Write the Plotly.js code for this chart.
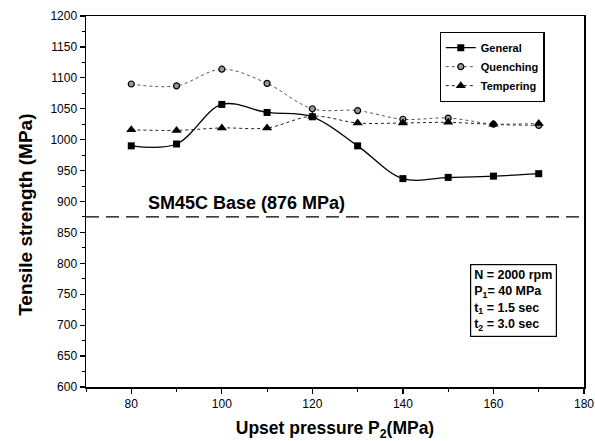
<!DOCTYPE html>
<html>
<head>
<meta charset="utf-8">
<script src="https://cdn.plot.ly/plotly-3.0.1.min.js"></script>
<style>html,body{margin:0;padding:0;background:#fff;}#chart{width:595px;height:441px;}</style>
</head>
<body>
<div id="chart"></div>
<script>
const pressure = [80, 90, 100, 110, 120, 130, 140, 150, 160, 170];
const general = [990, 993, 1057, 1044, 1037, 990, 937, 939, 941, 945];
const quenching = [1090, 1087, 1114, 1091, 1050, 1047, 1033, 1035, 1025, 1023];
const tempering = [1016, 1015, 1019, 1019, 1038, 1027, 1027, 1028, 1025, 1026];
const baseStrength = 875;
const xTicks = [80, 100, 120, 140, 160, 180];
const yTicks = [600, 650, 700, 750, 800, 850, 900, 950, 1000, 1050, 1100, 1150, 1200];

const FONT = 'Liberation Sans, Arial, sans-serif';

const traces = [
  {x: pressure, y: general, name: 'General', mode: 'lines+markers',
   line: {color: '#000', width: 1.3, shape: 'spline', smoothing: 1},
   marker: {symbol: 'square', size: 7, color: '#000'}},
  {x: pressure, y: quenching, name: 'Quenching', mode: 'lines+markers',
   line: {color: '#555', width: 1, dash: 'dot', shape: 'spline', smoothing: 1},
   marker: {symbol: 'circle', size: 6, color: '#999', line: {color: '#000', width: 1.2}}},
  {x: pressure, y: tempering, name: 'Tempering', mode: 'lines+markers',
   line: {color: '#222', width: 1, dash: 'dot', shape: 'spline', smoothing: 1},
   marker: {symbol: 'triangle-up', size: 9, color: '#000'}}
];

const layout = {
  width: 595, height: 441,
  margin: {l: 86, r: 11, t: 16, b: 54},
  paper_bgcolor: '#fff', plot_bgcolor: '#fff',
  font: {family: FONT, color: '#000', size: 11},
  showlegend: true,
  legend: {x: 0.71, y: 0.957, xanchor: 'left', yanchor: 'top',
    bordercolor: '#000', borderwidth: 1.2, bgcolor: '#fff',
    font: {family: FONT, size: 11, color: '#000', weight: 'bold'},
    tracegroupgap: 0, itemwidth: 30},
  xaxis: {range: [70, 180], tickvals: xTicks, ticktext: xTicks.map(String),
    showgrid: false, zeroline: false, showline: true, linecolor: '#000', linewidth: 1.5,
    mirror: true, ticks: 'outside', ticklen: 5, tickwidth: 1.3, tickcolor: '#000',
    minor: {dtick: 10, ticks: 'outside', ticklen: 3, tickwidth: 1, tickcolor: '#000', tick0: 70},
    tickfont: {size: 12, family: FONT},
    title: {text: '<b>Upset pressure P<sub>2</sub>(MPa)</b>', font: {size: 17.5, family: FONT}, standoff: 16}},
  yaxis: {range: [600, 1200], tickvals: yTicks, ticktext: yTicks.map(String),
    showgrid: false, zeroline: false, showline: true, linecolor: '#000', linewidth: 1.5,
    mirror: true, ticks: 'outside', ticklen: 5, tickwidth: 1.3, tickcolor: '#000',
    minor: {dtick: 25, ticks: 'outside', ticklen: 3, tickwidth: 1, tickcolor: '#000'},
    tickfont: {size: 12, family: FONT},
    title: {text: '<b>Tensile strength (MPa)</b>&nbsp;&nbsp;&nbsp;&nbsp;&nbsp;', font: {size: 19, family: FONT}, standoff: 12}},
  shapes: [
    {type: 'line', xref: 'paper', x0: 0, x1: 1, yref: 'y', y0: baseStrength, y1: baseStrength,
     line: {color: '#000', width: 1.3, dash: '13px,7px'}}
  ],
  annotations: [
    {xref: 'x', yref: 'y', x: 83.3, y: 898, xanchor: 'left', yanchor: 'middle', showarrow: false,
     text: '<b>SM45C Base (876 MPa)</b>', font: {size: 18, family: FONT, color: '#000'}},
    {xref: 'paper', yref: 'paper', x: 0.771, y: 0.332, xanchor: 'left', yanchor: 'top', showarrow: false,
     align: 'left', bordercolor: '#000', borderwidth: 1.2, borderpad: 3, bgcolor: '#fff',
     text: '<b>N = 2000 rpm<br>P<sub>1</sub>= 40 MPa<br>t<sub>1</sub> = 1.5 sec<br>t<sub>2</sub> = 3.0 sec</b>',
     font: {size: 12.5, family: FONT, color: '#000'}}
  ]
};

Plotly.newPlot('chart', traces, layout, {displayModeBar: false, staticPlot: true});
</script>
</body>
</html>
